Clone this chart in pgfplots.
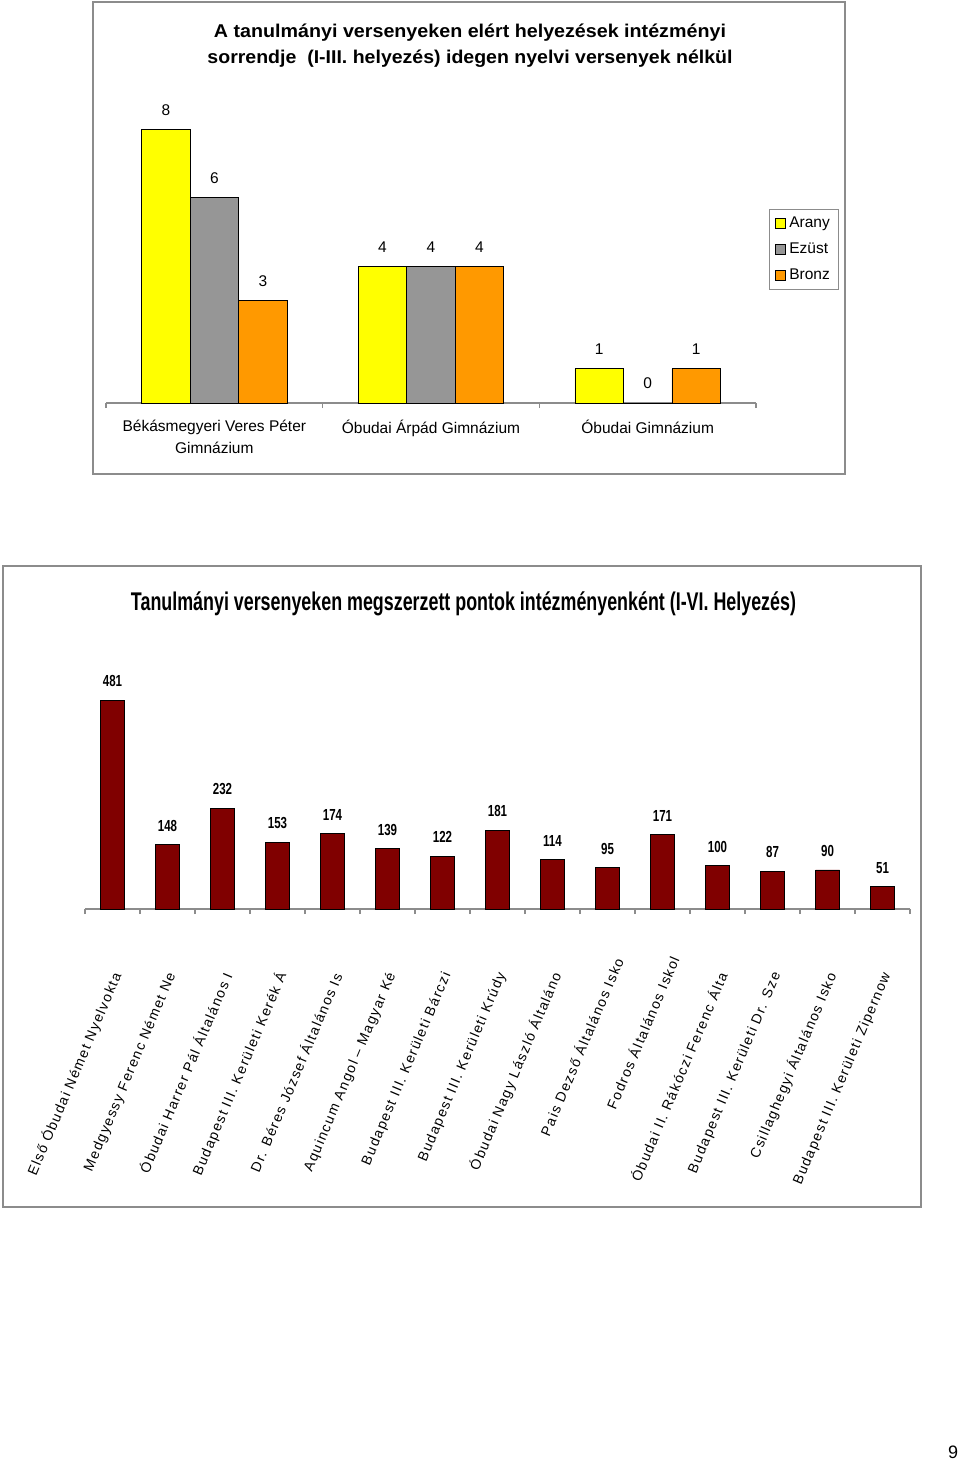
\documentclass[border=0pt]{standalone}
\usepackage{pgfplots}
\pgfplotsset{compat=1.18}
\usepackage{fontspec}
\setmainfont{Liberation Sans}
\newfontfamily\narrow[FakeStretch=0.72]{Liberation Sans}
\newfontfamily\spaced[LetterSpace=10]{Liberation Sans}

\definecolor{arany}{RGB}{255,255,0}
\definecolor{ezust}{RGB}{150,150,150}
\definecolor{bronz}{RGB}{255,153,0}
\definecolor{bordo}{RGB}{128,0,0}
\definecolor{keret}{RGB}{140,140,140}

\pgfplotsset{sqlegend/.style={legend image code/.code={\draw[##1] (0pt,-2.5pt) rectangle (5pt,2.5pt);}}}

% 1 px of the reference = 0.5pt
\begin{document}
\begin{tikzpicture}
\useasboundingbox (0,0) rectangle (480pt,-731.5pt);

% ---------- top chart ----------
\draw[keret, line width=0.6pt] (46.5pt,-1pt) rectangle (422.5pt,-237pt);
\node[align=center, font=\bfseries\fontsize{9.25pt}{13pt}\selectfont] at (235pt,-23pt)
  {\resizebox{256pt}{\height}{A tanulmányi versenyeken elért helyezések intézményi}\\
   \resizebox{262.5pt}{\height}{sorrendje~ (I-III. helyezés) idegen nyelvi versenyek nélkül}};

\begin{axis}[
  at={(53pt,-201.5pt)}, anchor=south west, scale only axis,
  width=325pt, height=154pt,
  xmin=-0.5, xmax=2.5, ymin=0, ymax=9,
  ybar=0pt, bar width=24.25pt,
  axis x line*=bottom, axis y line=none,
  axis line style={keret, line width=0.6pt},
  xtick={0,1,2},
  xticklabels={{Békásmegyeri Veres Péter\\Gimnázium},{Óbudai Árpád Gimnázium},{Óbudai Gimnázium}},
  major tick length=0pt, xtick align=outside,
  extra x ticks={-0.5,0.5,1.5,2.5}, extra x tick labels={},
  extra x tick style={major tick length=2.5pt, tick style={keret, line width=0.6pt}},
  xticklabel style={align=center, font=\fontsize{7.75pt}{11pt}\selectfont, inner sep=0pt, yshift=-8.5pt},
  /pgf/number format/assume math mode=true,
  nodes near coords,
  every node near coord/.append style={font=\fontsize{7.75pt}{9pt}\selectfont, anchor=south, inner sep=0pt, yshift=6.75pt, black},
  legend cell align=left,
  legend style={at={(1.02,0.63)}, anchor=north west, draw=keret, line width=0.5pt,
    font=\fontsize{7.75pt}{9pt}\selectfont, inner xsep=2.5pt, inner ysep=0.5pt, row sep=0pt,
    nodes={text height=6pt, text depth=1.8pt, inner ysep=2.6pt, inner xsep=2pt}},
]
\addplot[fill=arany, draw=black, line width=0.4pt, sqlegend]
  coordinates {(0,8) (1,4) (2,1)};
\addplot[fill=ezust, draw=black, line width=0.4pt, sqlegend]
  coordinates {(0,6) (1,4) (2,0)};
\addplot[fill=bronz, draw=black, line width=0.4pt, sqlegend]
  coordinates {(0,3) (1,4) (2,1)};
\legend{Arany, Ezüst, Bronz}
\end{axis}

% ---------- bottom chart ----------
\draw[keret, line width=0.6pt] (1.5pt,-283pt) rectangle (460.5pt,-603.5pt);
\node at (231.75pt,-302pt)
  {\resizebox{332.5pt}{\height}{\bfseries\fontsize{12.8pt}{14pt}\selectfont Tanulmányi versenyeken megszerzett pontok intézményenként (I-VI. Helyezés)}};

\begin{axis}[
  at={(42.5pt,-454.5pt)}, anchor=south west, scale only axis,
  width=412.5pt, height=108.63pt,
  xmin=-0.5, xmax=14.5, ymin=0, ymax=500,
  ybar, bar width=12pt,
  axis x line*=bottom, axis y line=none,
  axis line style={keret, line width=0.6pt},
  xtick={0,...,14},
  xticklabels={
    Első Óbudai Német Nyelvokta,
    Medgyessy Ferenc Német Ne,
    Óbudai Harrer Pál Általános I,
    Budapest III. Kerületi Kerék Á,
    Dr. Béres József Általános Is,
    Aquincum Angol – Magyar Ké,
    Budapest III. Kerületi Bárczi,
    Budapest III. Kerületi Krúdy,
    Óbudai Nagy László Általáno,
    {Pais Dezső Általános Isko\hspace{-8pt}\null},
    {Fodros Általános Iskol\hspace{-9pt}\null},
    Óbudai II. Rákóczi Ferenc Álta,
    Budapest III. Kerületi Dr. Sze,
    Csillaghegyi Általános Isko,
    Budapest III. Kerületi Zipernow},
  major tick length=0pt, xtick align=outside,
  extra x ticks={-0.5,0.5,...,14.5}, extra x tick labels={},
  extra x tick style={major tick length=2.5pt, tick style={keret, line width=0.6pt}},
  xticklabel style={yshift=-32pt, xshift=2.5pt, rotate=67, anchor=east, inner sep=0pt,
    font=\spaced\fontsize{7pt}{8pt}\selectfont},
  /pgf/number format/assume math mode=true,
  nodes near coords,
  every node near coord/.append style={font=\narrow\bfseries\fontsize{8pt}{9pt}\selectfont, anchor=south, inner sep=0pt, yshift=6.5pt, black},
]
\addplot[fill=bordo, draw=black, line width=0.4pt] coordinates {
  (0,481) (1,148) (2,232) (3,153) (4,174) (5,139) (6,122) (7,181)
  (8,114) (9,95) (10,171) (11,100) (12,87) (13,90) (14,51)};
\end{axis}

\node[font=\fontsize{9pt}{10pt}\selectfont] at (476.5pt,-726pt) {9};
\end{tikzpicture}
\end{document}
